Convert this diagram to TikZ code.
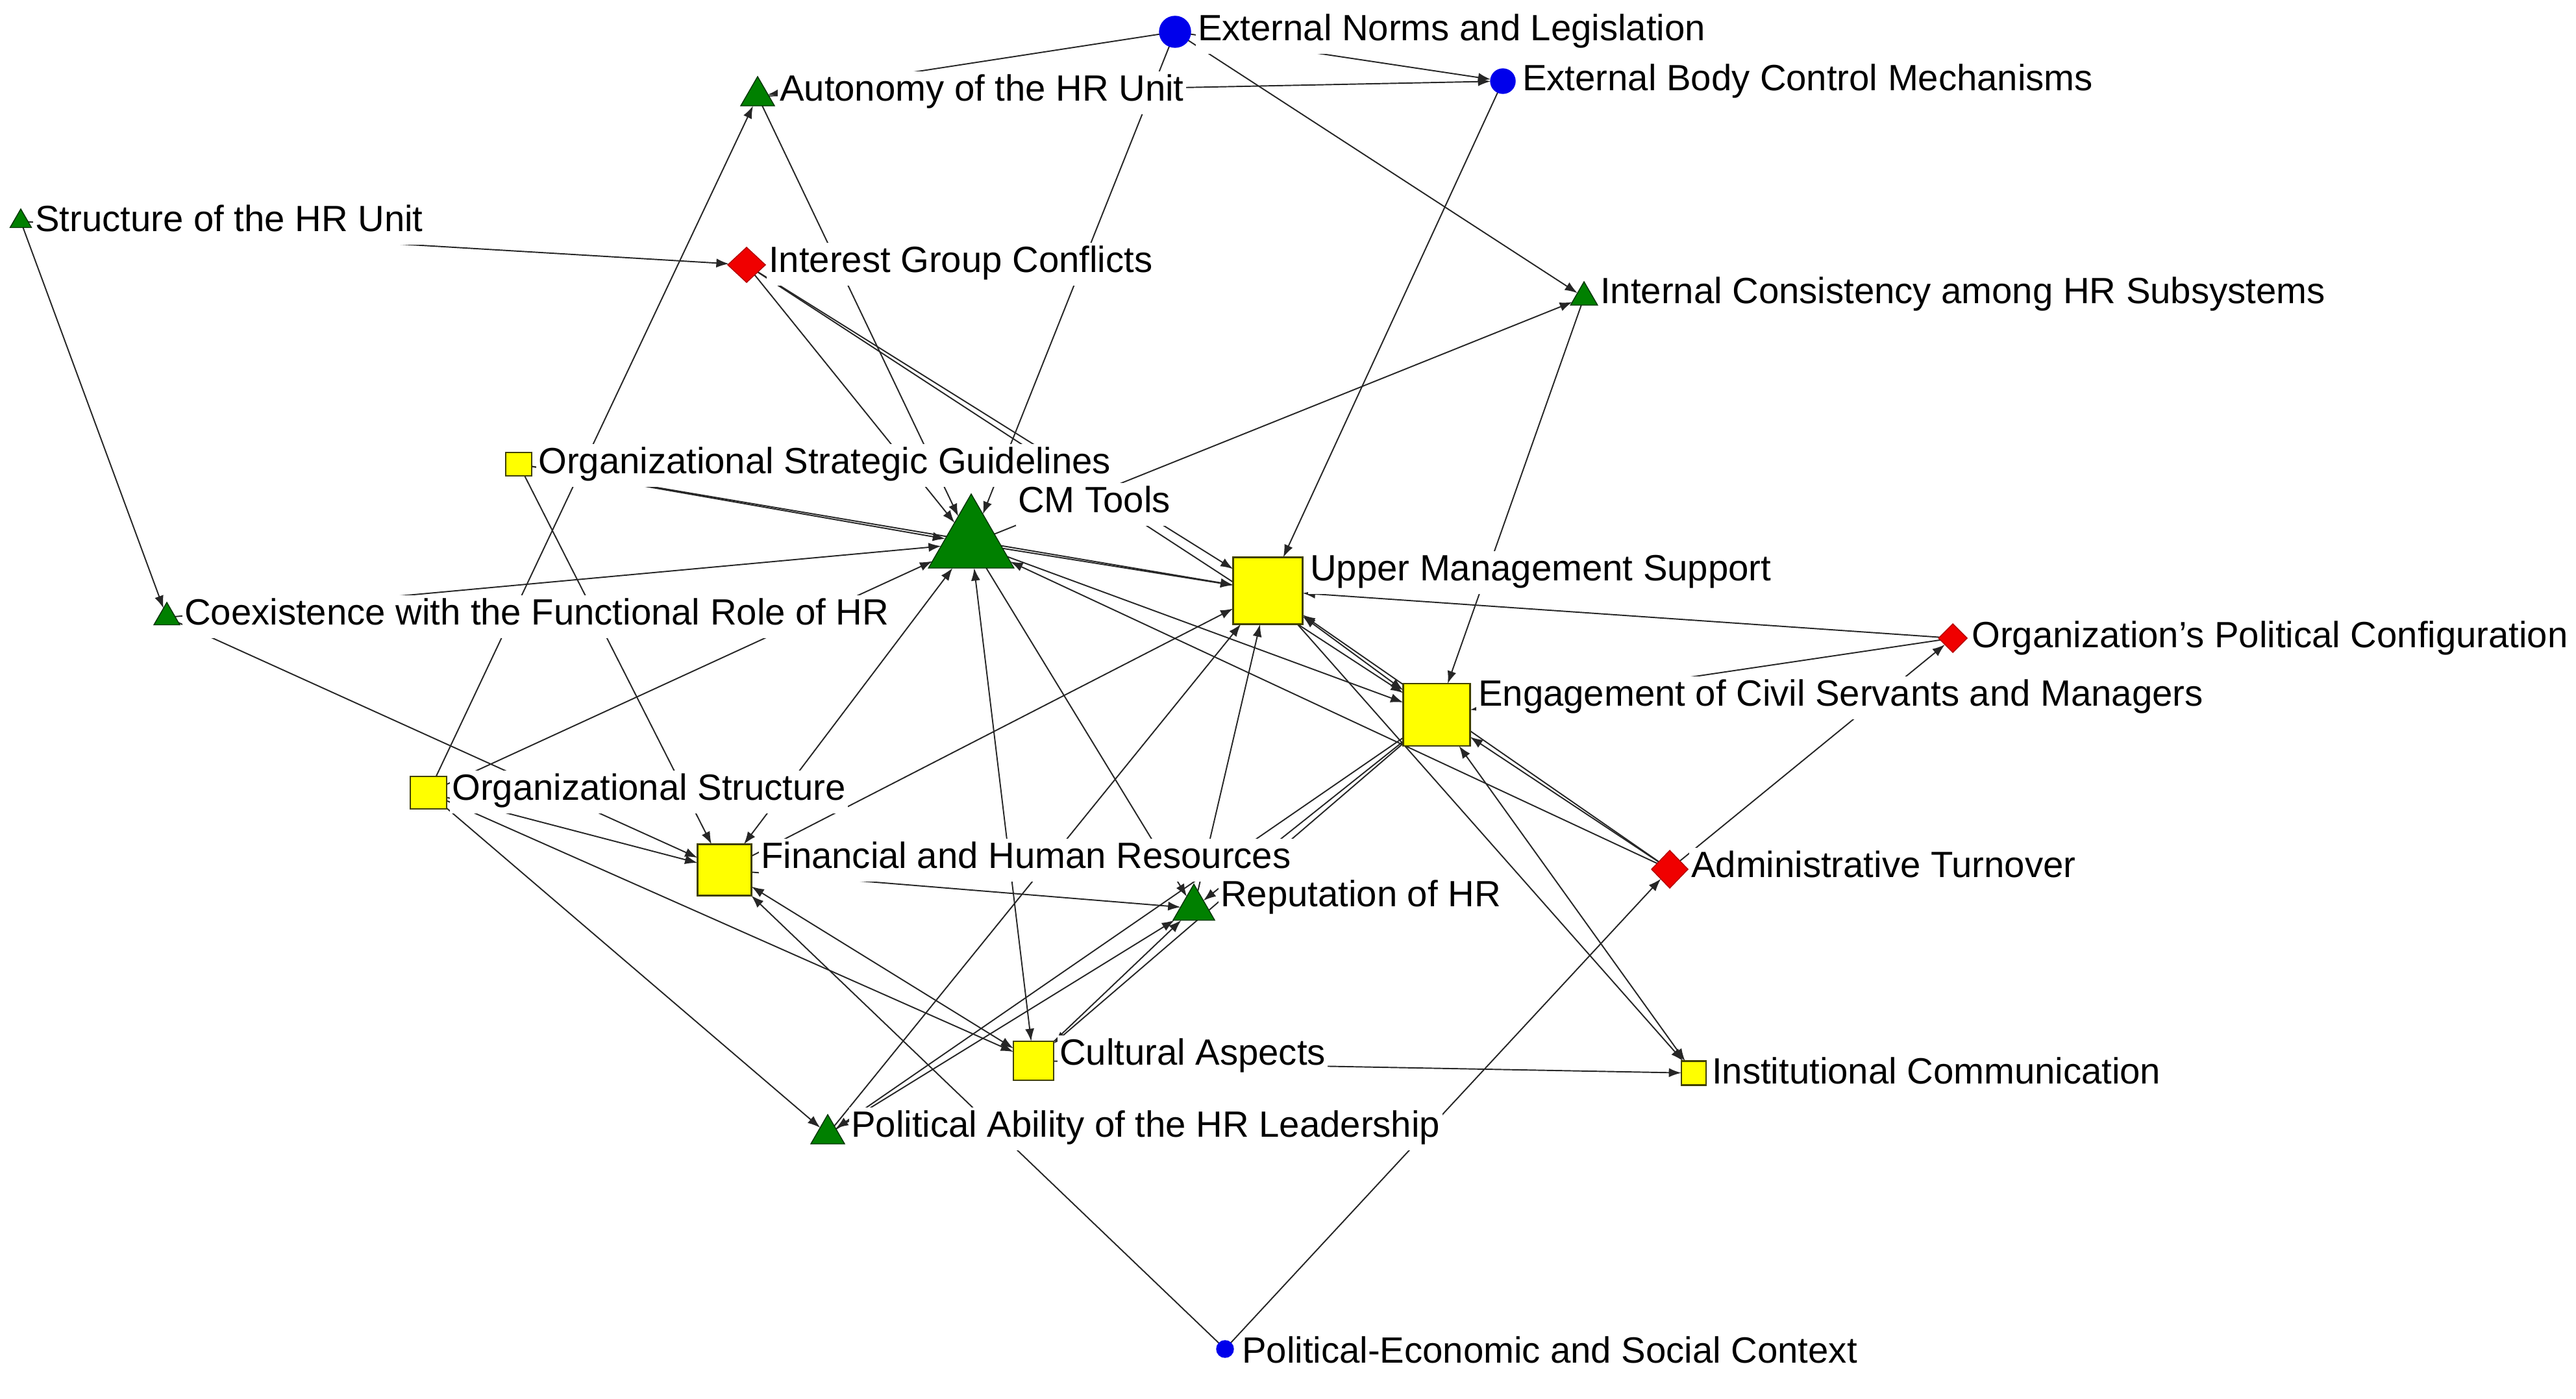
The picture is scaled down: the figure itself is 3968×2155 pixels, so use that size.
\documentclass[tikz,border=0pt]{standalone}
\usepackage{fontspec}
\setmainfont{Liberation Sans}
\usetikzlibrary{shapes.geometric,arrows.meta}
\pgfdeclarelayer{edgelayer}
\pgfdeclarelayer{labellayer}
\pgfsetlayers{edgelayer,labellayer,main}
\definecolor{ndgreen}{RGB}{0,128,0}
\definecolor{ndyellow}{RGB}{255,255,0}
\definecolor{ndred}{RGB}{240,0,0}
\definecolor{ndblue}{RGB}{0,0,235}
\begin{document}
\begin{tikzpicture}[x=0.01cm,y=-0.01cm,
  tri/.style={regular polygon, regular polygon sides=3, fill=ndgreen, draw=black!60!ndgreen, line width=0.4pt, inner sep=0pt, outer sep=0pt},
  sq/.style={rectangle, fill=ndyellow, draw=black!75!ndyellow, line width=0.6pt, inner sep=0pt, outer sep=0pt},
  dia/.style={diamond, fill=ndred, draw=black!25!ndred, line width=0.4pt, inner sep=0pt, outer sep=0pt},
  circ/.style={circle, fill=ndblue, draw=ndblue, inner sep=0pt, outer sep=0pt},
  lab/.style={anchor=west, fill=white, inner xsep=1pt, inner ysep=1pt, font=\fontsize{16}{19}\selectfont, text height=12pt, text depth=5pt},
  lnk/.style={line width=0.55pt, draw=black!85, -{Latex[length=5.5pt,width=4pt]}},
  lnkb/.style={line width=0.55pt, draw=black!85, {Latex[length=5.5pt,width=4pt]}-{Latex[length=5.5pt,width=4pt]}}
]
\useasboundingbox (0,0) rectangle (3968,2155);

% ---------- node shapes ----------
\node[circ, minimum size=0.48cm] (ENL) at (1810,49) {};
\node[circ, minimum size=0.38cm] (EBC) at (2315,125) {};
\node[tri, minimum size=0.60cm] (AUT) at (1167,148) {};
\node[tri, minimum size=0.38cm] (SHR) at (32,341) {};
\node[dia, minimum width=0.58cm, minimum height=0.54cm] (IGC) at (1150,408) {};
\node[tri, minimum size=0.48cm] (ICS) at (2440,458) {};
\node[sq, minimum width=0.40cm, minimum height=0.36cm] (OSG) at (799,715) {};
\node[tri, minimum size=1.52cm] (CMT) at (1496,837) {};
\node[sq, minimum width=1.07cm, minimum height=1.03cm] (UMS) at (1953,910) {};
\node[sq, minimum width=1.03cm, minimum height=0.96cm] (ECS) at (2213,1101) {};
\node[dia, minimum width=0.44cm, minimum height=0.44cm] (OPC) at (3008,983) {};
\node[dia, minimum width=0.56cm, minimum height=0.58cm] (ADT) at (2572,1339) {};
\node[sq, minimum width=0.38cm, minimum height=0.37cm] (ICM) at (2609,1653) {};
\node[tri, minimum size=0.46cm] (CFR) at (257,951) {};
\node[sq, minimum width=0.56cm, minimum height=0.50cm] (OST) at (660,1221) {};
\node[sq, minimum width=0.83cm, minimum height=0.79cm] (FHR) at (1116,1340) {};
\node[tri, minimum size=0.74cm] (REP) at (1839,1399) {};
\node[sq, minimum width=0.62cm, minimum height=0.60cm] (CUL) at (1592,1634) {};
\node[tri, minimum size=0.60cm] (PAL) at (1275,1747) {};
\node[circ, minimum size=0.26cm] (PEC) at (1887,2078) {};

% ---------- labels ----------
\begin{pgfonlayer}{labellayer}
\node[lab] (lENL) at (1841,50) {External Norms and Legislation};
\node[lab] (lEBC) at (2341,127) {External Body Control Mechanisms};
\node[lab] (lAUT) at (1197,143) {Autonomy of the HR Unit};
\node[lab] (lSHR) at (50,344) {Structure of the HR Unit};
\node[lab] (lIGC) at (1180,407) {Interest Group Conflicts};
\node[lab] (lICS) at (2461,455) {Internal Consistency among HR Subsystems};
\node[lab] (lOSG) at (825,717) {Organizational Strategic Guidelines};
\node[lab] (lCMT) at (1564,777) {CM Tools};
\node[lab] (lUMS) at (2014,882) {Upper Management Support};
\node[lab] (lOPC) at (3033,985) {Organization’s Political Configuration};
\node[lab] (lECS) at (2273,1075) {Engagement of Civil Servants and Managers};
\node[lab] (lCFR) at (280,950) {Coexistence with the Functional Role of HR};
\node[lab] (lOST) at (692,1220) {Organizational Structure};
\node[lab] (lFHR) at (1168,1325) {Financial and Human Resources};
\node[lab] (lREP) at (1876,1384) {Reputation of HR};
\node[lab] (lADT) at (2601,1339) {Administrative Turnover};
\node[lab] (lCUL) at (1628,1628) {Cultural Aspects};
\node[lab] (lICM) at (2633,1657) {Institutional Communication};
\node[lab] (lPAL) at (1307,1739) {Political Ability of the HR Leadership};
\node[lab] (lPEC) at (1909,2087) {Political-Economic and Social Context};
\end{pgfonlayer}

% ---------- connectors ----------
\begin{pgfonlayer}{edgelayer}
\fill[white] (0,0) rectangle (3968,2155);
\draw[lnk] (ENL) -- (AUT);
\draw[lnk] (AUT) -- (EBC);
\draw[lnk] (ENL) -- (EBC);
\draw[lnk] (ENL) -- (ICS);
\draw[lnk] (ENL) -- (CMT);
\draw[lnk] (EBC) -- (UMS);
\draw[lnk] (SHR) -- (IGC);
\draw[lnk] (SHR) -- (CFR);
\draw[lnk] (IGC) -- (CMT);
\draw[lnk] (IGC) -- (UMS);
\draw[lnk] (IGC) -- (ECS);
\draw[lnk] (AUT) -- (CMT);
\draw[lnk] (OST) -- (AUT);
\draw[lnk] (OSG) -- (CMT);
\draw[lnk] (OSG) -- (UMS);
\draw[lnk] (OSG) -- (FHR);
\draw[lnk] (CMT) -- (ICS);
\draw[lnk] (ICS) -- (ECS);
\draw[lnk] (CFR) -- (CMT);
\draw[lnk] (CFR) -- (FHR);
\draw[lnk] (OST) -- (FHR);
\draw[lnk] (OST) -- (CMT);
\draw[lnk] (OST) -- (CUL);
\draw[lnk] (OST) -- (PAL);
\draw[lnkb] (CMT) -- (FHR);
\draw[lnkb] (CMT) -- (CUL);
\draw[lnk] (CMT) -- (REP);
\draw[lnk] (CMT) -- (UMS);
\draw[lnk] (CMT) -- (ECS);
\draw[lnk] (ADT) -- (CMT);
\draw[lnk] (FHR) -- (UMS);
\draw[lnk] (FHR) -- (REP);
\draw[lnkb] (FHR) -- (CUL);
\draw[lnk] (PEC) -- (FHR);
\draw[lnk] (PEC) -- (ADT);
\draw[lnk] (REP) -- (UMS);
\draw[lnk] (PAL) -- (UMS);
\draw[lnkb] (UMS) -- (ECS);
\draw[lnk] (ADT) -- (UMS);
\draw[lnk] (UMS) -- (ICM);
\draw[lnkb] (ECS) -- (ICM);
\draw[lnk] (CUL) -- (ICM);
\draw[lnk] (OPC) -- (UMS);
\draw[lnk] (OPC) -- (ECS);
\draw[lnk] (ADT) -- (OPC);
\draw[lnk] (ADT) -- (ECS);
\draw[lnk] (ECS) -- (REP);
\draw[lnk] (ECS) -- (PAL);
\draw[lnk] (ECS) -- (CUL);
\draw[lnk] (PAL) -- (REP);
\draw[lnk] (CUL) -- (REP);
\end{pgfonlayer}
\end{tikzpicture}
\end{document}
